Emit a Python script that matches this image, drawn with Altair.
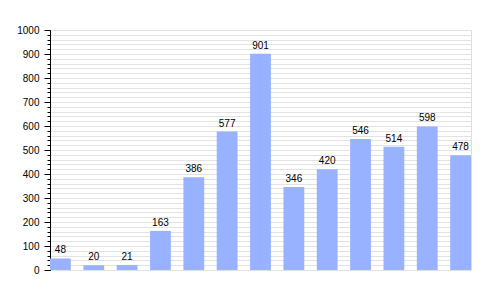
import altair as alt
import pandas as pd

years = ["1900", "1910", "1921", "1930", "1960", "1970", "1980", "1990", "1995", "2000", "2005", "2010", "2020"]
values = [48, 20, 21, 163, 386, 577, 901, 346, 420, 546, 514, 598, 478]

major_ticks = list(range(0, 1001, 100))
minor_ticks = list(range(0, 1001, 20))

df = pd.DataFrame({"year": years, "value": values})

FONT = "Liberation Sans"

xscale = alt.Scale(paddingInner=0.376, paddingOuter=0)
yscale = alt.Scale(domain=[0, 1000], nice=False)

base = alt.Chart(df)

minor = base.mark_bar(opacity=0).encode(
    x=alt.X("year:N", sort=years, scale=xscale, axis=None),
    y=alt.Y("value:Q", scale=yscale,
            axis=alt.Axis(orient="left", values=minor_ticks, labels=False, tickSize=3,
                          tickColor="black", domain=False, gridColor="#e2e2e2",
                          gridWidth=1, title=None)),
)

bars = base.mark_bar(color="#99b2ff").encode(
    x=alt.X("year:N", sort=years, scale=xscale,
            axis=alt.Axis(title=None, labelAngle=0, ticks=False, domainColor="black",
                          labelFont=FONT, labelFontSize=10, labelColor="black",
                          labelPadding=4)),
    y=alt.Y("value:Q", scale=yscale,
            axis=alt.Axis(orient="left", values=major_ticks, tickSize=6, tickColor="black",
                          domainColor="black", gridColor="#aaaaaa", gridWidth=1,
                          format="d",
                          labelFont=FONT, labelFontSize=10, labelColor="black",
                          labelPadding=5, title=None)),
)

text = base.mark_text(baseline="bottom", dy=-3, font=FONT, fontSize=10, color="black").encode(
    x=alt.X("year:N", sort=years, scale=xscale, axis=None),
    y=alt.Y("value:Q", scale=yscale, axis=None),
    text="value:Q",
)

chart = alt.layer(minor, bars, text).resolve_axis(y="independent").properties(
    width=421, height=240,
    autosize=alt.AutoSizeParams(type="none"),
    padding={"left": 50, "top": 30, "right": 29, "bottom": 30},
).configure_view(stroke=None).configure(background="white")

chart.save("out.html", embed_options={"renderer": "svg", "actions": False})
